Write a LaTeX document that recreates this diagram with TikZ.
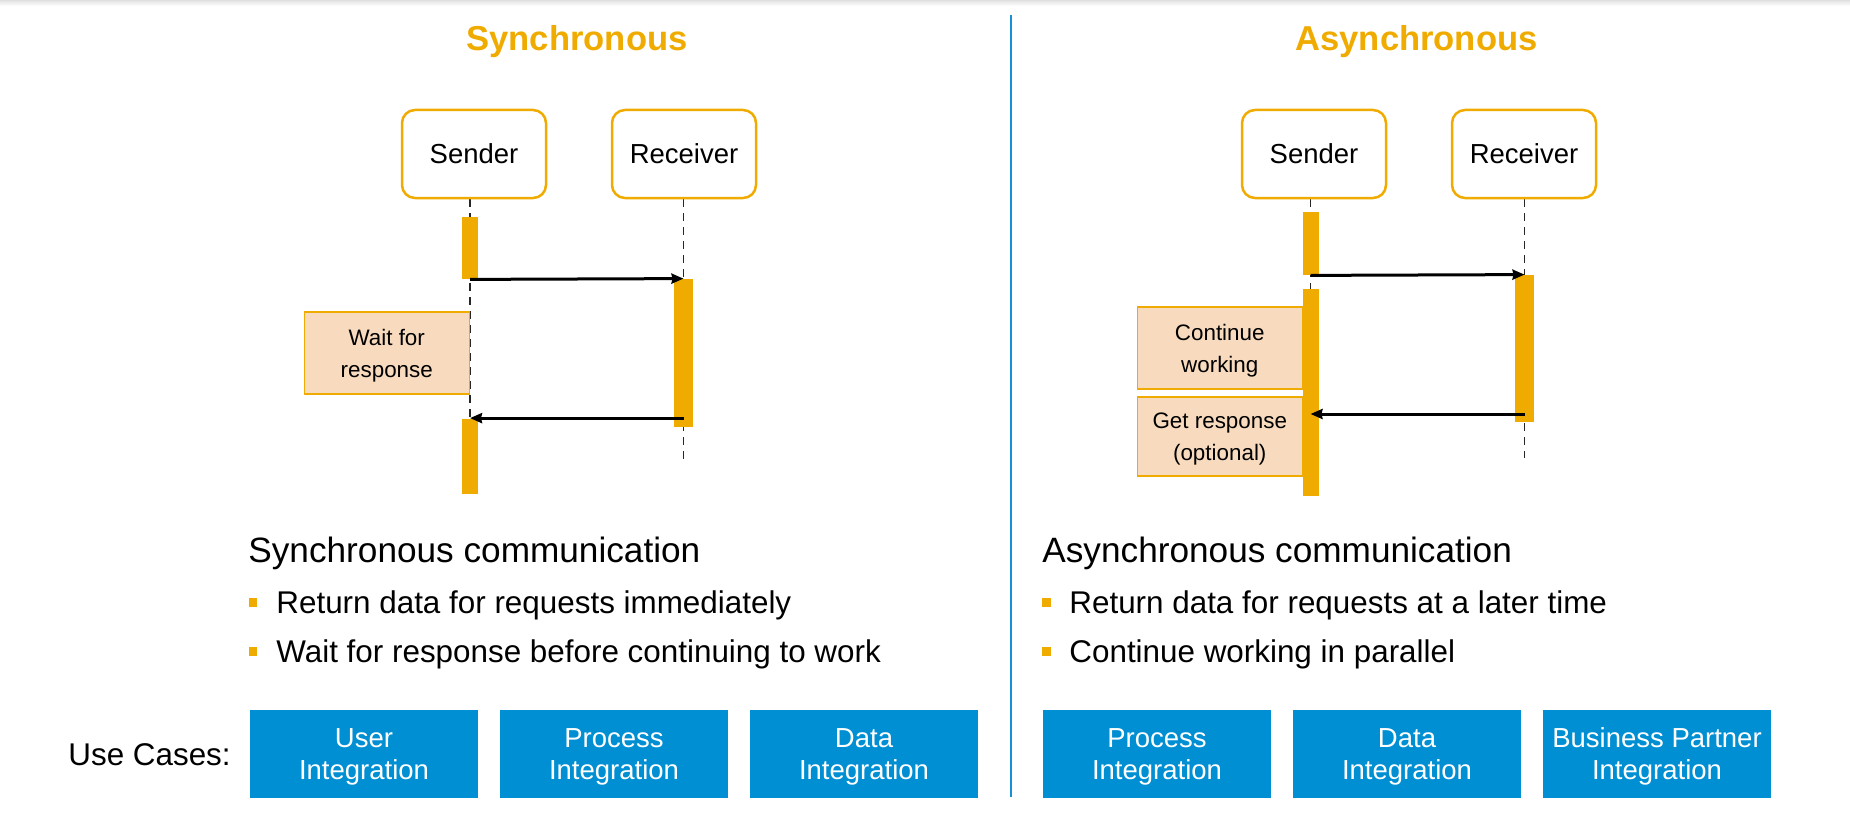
\documentclass[tikz,border=0pt]{standalone}
\usepackage{fontspec}
\setmainfont{Liberation Sans}
\usepackage{tikz}
\usetikzlibrary{arrows.meta, positioning, backgrounds}
\definecolor{sapgold}{HTML}{F0AB00}
\definecolor{peach}{HTML}{F8DBBE}
\definecolor{sapblue}{HTML}{008FD3}
\definecolor{divblue}{HTML}{1A90D4}
\tikzstyle{title} = [anchor=base, text=sapgold, font=\fontsize{17.3}{20}\selectfont\bfseries]
\tikzstyle{actor} = [rectangle, rounded corners=6.5pt, minimum width=72pt, minimum height=44pt, text centered, draw=sapgold, line width=1.25pt, font=\fontsize{13.75}{16}\selectfont]
\tikzstyle{actbar} = [rectangle, fill=sapgold, inner sep=0pt, minimum width=8pt]
\tikzstyle{note} = [rectangle, minimum width=82.5pt, minimum height=41pt, align=center, text depth=-1.6pt, draw=sapgold, fill=peach, line width=0.75pt, inner sep=1pt, font=\fontsize{11.2}{16}\selectfont]
\tikzstyle{life} = [draw=black!85, line width=0.7pt, dash pattern=on 4pt off 3pt]
\tikzstyle{arrow} = [line width=1.5pt, ->, >={Stealth[length=6pt, width=5pt, inset=0.5pt]}]
\tikzstyle{heading} = [anchor=base west, inner sep=0pt, font=\fontsize{17.6}{20}\selectfont]
\tikzstyle{item} = [anchor=base west, inner sep=0pt, font=\fontsize{15.7}{18}\selectfont]
\tikzstyle{bsq} = [rectangle, fill=sapgold, inner sep=0pt, minimum size=4.3pt]
\tikzstyle{usecase} = [rectangle, minimum width=114pt, minimum height=44pt, align=center, text depth=-2pt, fill=sapblue, text=white, inner sep=2pt, node distance=125pt, font=\fontsize{13.75}{16}\selectfont]

\begin{document}
\begin{tikzpicture}[x=0.5pt, y=-0.5pt, node distance=105pt]
\useasboundingbox (0,0) rectangle (1850,813);
\shade[top color=black!12, bottom color=white] (0,0) rectangle (1850,6);

% synchronous
\node (titleS) [title] at (577,51) {Synchronous};
\node (sendS) [actor] at (474,154) {Sender};
\node (recvS) [actor, right of=sendS] {Receiver};
\node (sbar1S) [actbar, minimum height=31pt] at (470,248) {};
\node (rbarS) [actbar, minimum width=9.5pt, minimum height=74pt] at (683.5,353) {};
\node (sbar2S) [actbar, minimum height=37.5pt] at (470,456) {};
\node (waitS) [note, anchor=east] at (470,353) {Wait for\\response};
\draw [arrow] (sbar1S.south) -- (rbarS.north);
\draw [arrow] (rbarS.south |- sbar2S.north) -- (sbar2S.north);

% asynchronous
\node (titleA) [title] at (1416.5,51) {Asynchronous};
\node (sendA) [actor] at (1314,154) {Sender};
\node (recvA) [actor, right of=sendA] {Receiver};
\node (sbar1A) [actbar, minimum height=31.5pt] at (1310.5,243.5) {};
\node (rbarA) [actbar, minimum width=9.5pt, minimum height=73.5pt] at (1524.5,348.5) {};
\node (sbar2A) [actbar, minimum height=103.5pt] at (1310.5,392.5) {};
\node (contA) [note, anchor=east] at (1303,348) {Continue\\working};
\node (getA) [note, anchor=east, minimum height=39.5pt] at (1303,436.5) {Get response\\(optional)};
\coordinate (retA) at (1524.5,414);
\draw [arrow] (sbar1A.south) -- (rbarA.north);
\draw [arrow] (retA) -- (retA -| sbar2A.center);

% lifelines behind the bars
\begin{scope}[on background layer]
\draw [life] (sendS.south -| sbar1S.north) -- (sbar2S.south);
\draw [life] (recvS.south -| rbarS.north) -- ([yshift=-18pt]rbarS.south);
\draw [life] (sendA.south -| sbar1A.north) -- (sbar2A.south);
\draw [life] (recvA.south -| rbarA.north) -- ([yshift=-18pt]rbarA.south);
\end{scope}

% divider
\draw [divblue, line width=1pt] (1011,15) -- (1011,797);

% text
\node (headS) [heading] at (248,562) {Synchronous communication};
\node (b1S) [bsq] at (253,602.5) {};
\node (t1S) [item] at (276,613) {Return data for requests immediately};
\node (b2S) [bsq] at (253,651.5) {};
\node (t2S) [item] at (276,662) {Wait for response before continuing to work};
\node (headA) [heading] at (1042,562) {Asynchronous communication};
\node (b1A) [bsq] at (1046.5,602.5) {};
\node (t1A) [item] at (1069,613) {Return data for requests at a later time};
\node (b2A) [bsq] at (1046.5,651.5) {};
\node (t2A) [item] at (1069,662) {Continue working in parallel};

% use cases
\node (uselbl) [item] at (68,765) {Use Cases:};
\node (uc1) [usecase] at (364,754) {User\\Integration};
\node (uc2) [usecase, right of=uc1] {Process\\Integration};
\node (uc3) [usecase, right of=uc2] {Data\\Integration};
\node (uc4) [usecase] at (1157,754) {Process\\Integration};
\node (uc5) [usecase, right of=uc4] {Data\\Integration};
\node (uc6) [usecase, right of=uc5] {Business Partner\\Integration};
\end{tikzpicture}
\end{document}
